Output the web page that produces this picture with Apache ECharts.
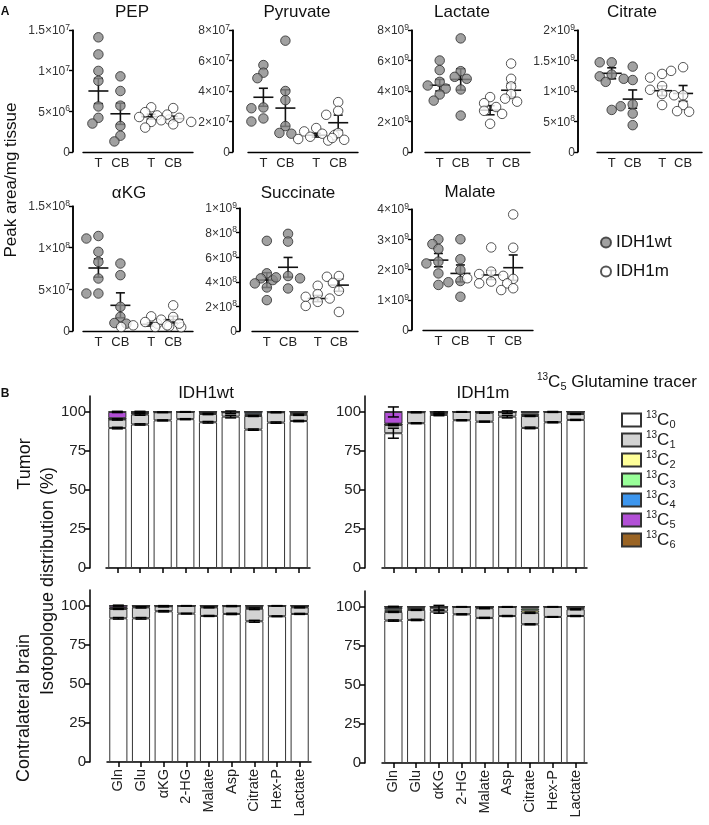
<!DOCTYPE html>
<html><head><meta charset="utf-8">
<script src="https://cdn.jsdelivr.net/npm/echarts@6/dist/echarts.min.js"></script>
<style>html,body{margin:0;padding:0;background:#fff}#wrap{position:relative;width:709px;height:825px;overflow:hidden}
.layer{position:absolute;left:0;top:0;width:709px;height:825px;pointer-events:none}</style>
</head><body><div id="wrap"></div>
<script>
// ---------------- Panel A data ----------------
const groupLabels = ['T', 'CB', 'T', 'CB'];
const groupSeries = ['IDH1wt', 'IDH1wt', 'IDH1m', 'IDH1m'];
const plotTitles = ['PEP', 'Pyruvate', 'Lactate', 'Citrate', 'αKG', 'Succinate', 'Malate'];
const yMax = [1.5e7, 8e7, 8e9, 2e9, 1.5e8, 1e9, 4e9];
const yInterval = [5e6, 2e7, 2e9, 5e8, 5e7, 2e8, 1e9];

const pep = [[14.1e6, 12.0e6, 9.97e6, 8.75e6, 5.6e6, 4.2e6, 3.5e6], [9.3e6, 7.5e6, 5.7e6, 3.2e6, 2.0e6, 1.3e6], [5.5e6, 4.9e6, 4.5e6, 4.3e6, 4.0e6, 3.7e6, 3.0e6], [5.4e6, 4.6e6, 4.2e6, 3.9e6, 3.7e6, 3.4e6]];
const pepMean = [7.5e6, 4.7e6, 4.35e6, 4.1e6];
const pepSem = [1.55e6, 1.3e6, 0.3e6, 0.3e6];

const pyruvate = [[5.7e7, 5.2e7, 4.84e7, 2.92e7, 2.87e7, 2.2e7, 2.0e7], [7.3e7, 4.0e7, 3.4e7, 1.7e7, 1.25e7, 1.2e7], [1.57e7, 1.35e7, 1.2e7, 1.1e7, 1.0e7, 0.85e7, 0.75e7], [3.27e7, 2.7e7, 2.44e7, 1.24e7, 0.92e7, 0.8e7]];
const pyruvateMean = [3.59e7, 2.88e7, 1.1e7, 1.92e7];
const pyruvateSem = [0.59e7, 1.2e7, 0.12e7, 0.5e7];

const lactate = [[6.0e9, 5.37e9, 4.6e9, 4.36e9, 4.16e9, 3.77e9, 3.37e9], [7.45e9, 5.3e9, 4.93e9, 4.8e9, 4.1e9, 2.39e9], [3.6e9, 3.2e9, 2.95e9, 2.7e9, 2.5e9, 1.85e9], [5.8e9, 4.8e9, 4.3e9, 3.8e9, 3.5e9, 3.3e9]];
const lactateMean = [4.38e9, 4.76e9, 2.74e9, 4.05e9];
const lactateSem = [0.38e9, 0.7e9, 0.3e9, 0.45e9];

const citrate = [[1.47e9, 1.47e9, 1.27e9, 1.24e9, 1.2e9, 1.15e9, 0.69e9], [1.40e9, 1.18e9, 0.78e9, 0.75e9, 0.63e9, 0.44e9], [1.28e9, 1.22e9, 1.08e9, 1.02e9, 0.95e9, 0.93e9, 0.77e9], [1.39e9, 1.33e9, 0.93e9, 0.77e9, 0.67e9, 0.66e9]];
const citrateMean = [1.29e9, 0.867e9, 1.005e9, 0.96e9];
const citrateSem = [0.09e9, 0.15e9, 0.08e9, 0.13e9];

const akg = [[11.4e7, 11.1e7, 9.5e7, 8.3e7, 6.3e7, 4.5e7, 4.5e7], [8.1e7, 6.7e7, 2.9e7, 1.7e7, 0.96e7, 0.88e7], [1.76e7, 1.08e7, 0.88e7, 0.68e7, 0.56e7, 0.48e7, 0.45e7], [3.08e7, 1.68e7, 1.36e7, 0.88e7, 0.68e7, 0.48e7]];
const akgMean = [7.56e7, 3.08e7, 0.8e7, 1.36e7];
const akgSem = [1.1e7, 1.5e7, 0.2e7, 0.4e7];

const succinate = [[7.33e8, 4.69e8, 4.28e8, 4.14e8, 3.87e8, 3.54e8, 2.51e8], [7.9e8, 7.27e8, 4.47e8, 4.36e8, 4.28e8, 3.46e8], [3.68e8, 3.0e8, 2.78e8, 2.64e8, 2.37e8, 2.04e8], [4.47e8, 4.41e8, 3.92e8, 3.27e8, 1.55e8]];
const succinateMean = [4.14e8, 5.18e8, 2.64e8, 3.73e8];
const succinateSem = [0.6e8, 0.8e8, 0.25e8, 0.5e8];

const malate = [[3.0e9, 2.84e9, 2.68e9, 2.26e9, 2.2e9, 1.87e9, 1.49e9], [3.0e9, 2.34e9, 1.98e9, 1.62e9, 1.58e9, 1.1e9], [2.73e9, 1.93e9, 1.85e9, 1.79e9, 1.71e9, 1.6e9, 1.54e9], [3.82e9, 2.72e9, 1.69e9, 1.54e9, 1.38e9, 1.32e9]];
const malateMean = [2.31e9, 1.87e9, 1.82e9, 2.06e9];
const malateSem = [0.22e9, 0.28e9, 0.15e9, 0.42e9];

// ---------------- Panel B data ----------------
const metabolites = ['Gln', 'Glu', 'αKG', '2-HG', 'Malate', 'Asp', 'Citrate', 'Hex-P', 'Lactate'];
const isoNames = ['13C0', '13C1', '13C2', '13C3', '13C4', '13C5', '13C6'];
const panelTitles = ['IDH1wt', 'IDH1m'];
// rows: 13C0 .. 13C6 (% of pool), columns follow metabolites
const tumorWt = [
  [89.5, 91.8, 94.4, 95.2, 93.2, 96.8, 88.5, 93.0, 94.0],
  [5.5, 6.4, 5.2, 4.6, 5.3, 2.8, 8.7, 6.6, 4.0],
  [0.3, 0.6, 0.2, 0.1, 0.6, 0.2, 0.8, 0.2, 0.8],
  [0.2, 0.3, 0.1, 0.05, 0.4, 0.1, 0.6, 0.1, 0.5],
  [0.3, 0.3, 0.05, 0.05, 0.4, 0.05, 1.2, 0.05, 0.6],
  [4.0, 0.5, 0.05, 0, 0.1, 0.05, 0.2, 0.05, 0.1],
  [0.2, 0.1, 0, 0, 0, 0, 0, 0, 0]
];
const tumorM = [
  [86.2, 92.6, 97.9, 94.5, 93.6, 96.8, 89.6, 93.2, 94.7],
  [5.3, 7.0, 1.3, 5.3, 5.7, 2.9, 7.6, 6.6, 3.8],
  [0.2, 0.2, 0.3, 0.1, 0.3, 0.1, 0.6, 0.1, 0.5],
  [0.2, 0.1, 0.2, 0.05, 0.2, 0.1, 1.0, 0.05, 0.5],
  [0.4, 0.05, 0.2, 0.05, 0.2, 0.05, 1.0, 0.05, 0.5],
  [7.5, 0.05, 0.1, 0, 0, 0.05, 0.2, 0, 0],
  [0.2, 0, 0, 0, 0, 0, 0, 0, 0]
];
const contraWt = [
  [91.9, 91.9, 96.4, 94.9, 93.4, 94.7, 90.0, 93.2, 94.7],
  [6.0, 7.0, 3.2, 5.0, 5.5, 5.0, 8.0, 6.7, 4.2],
  [0.2, 0.4, 0.2, 0.05, 0.4, 0.1, 0.5, 0.05, 0.4],
  [0.2, 0.3, 0.1, 0.03, 0.4, 0.1, 0.5, 0.03, 0.4],
  [0.2, 0.3, 0.1, 0.02, 0.3, 0.1, 0.8, 0.02, 0.3],
  [1.5, 0.1, 0, 0, 0, 0, 0.2, 0, 0],
  [0, 0, 0, 0, 0, 0, 0, 0, 0]
];
const contraM = [
  [91.1, 91.5, 96.8, 95.1, 92.8, 94.0, 88.7, 93.4, 94.0],
  [5.5, 6.4, 2.5, 4.8, 6.2, 5.8, 7.4, 6.5, 4.3],
  [0.8, 0.7, 0.3, 0.05, 0.4, 0.1, 1.5, 0.05, 0.6],
  [0.8, 0.7, 0.2, 0.03, 0.3, 0.05, 1.2, 0.03, 0.5],
  [1.0, 0.6, 0.2, 0.02, 0.3, 0.05, 1.0, 0.02, 0.6],
  [0.8, 0.1, 0, 0, 0, 0, 0.2, 0, 0],
  [0, 0, 0, 0, 0, 0, 0, 0, 0]
];
// SEM at the cumulative top of 13C0, 13C1 and 13C5
const semLevels = [0, 1, 5];
const tumorWtSem = [[0.5, 0.4, 0.3, 0.3, 0.5, 0.8, 0.4, 0.4, 0.4], [0.4, 0.5, 0.2, 0.2, 0.4, 0.8, 0.3, 0.3, 0.4], [0.4, 0.3, 0, 0, 0, 0, 0, 0, 0]];
const tumorMSem = [[3.2, 0.3, 0.5, 0.3, 0.3, 0.8, 0.5, 0.3, 0.3], [0.5, 0.3, 0.6, 0.2, 0.3, 0.8, 0.3, 0.3, 0.3], [3.2, 0, 0, 0, 0, 0, 0, 0, 0]];
const contraWtSem = [[0.5, 0.5, 0.4, 0.2, 0.3, 0.4, 0.6, 0.2, 0.3], [0.3, 0.4, 0.4, 0.1, 0.3, 0.3, 0.5, 0.1, 0.3], [0.3, 0, 0, 0, 0, 0, 0, 0, 0]];
const contraMSem = [[0.4, 0.4, 1.0, 0.3, 0.3, 0.3, 0.3, 0.2, 0.3], [0.3, 0.3, 1.5, 0.1, 0.3, 0.2, 0.4, 0.1, 0.3], [0.2, 0, 0, 0, 0, 0, 0, 0, 0]];

// ---------------- styles / layout ----------------
const FONT = 'Liberation Sans, Arial, Helvetica, sans-serif';
const isoColors = ['#ffffff', '#d3d3d3', '#ffff99', '#99ff99', '#3d96ee', '#b24fd6', '#9a6424'];
const groupPos = [0, 1, 2.4, 3.4];
const layoutA = [ // left, top, width, height, axis offset, title x, title y
  [83, 30, 110, 122, 10, 132, 12],
  [248, 30, 110, 122, 15, 297, 12],
  [425, 30, 105, 122, 13, 462, 12],
  [597, 30, 105, 122, 19, 632, 12],
  [83, 206, 110, 125, 10, 129, 193],
  [252, 208, 106, 123, 12, 298, 193],
  [423, 209, 110, 121, 11, 470, 192]
];
const layoutB = [
  [106, 396, 204, 172, 16],
  [382, 396, 205, 172, 17],
  [107, 590, 204, 172, 17],
  [382, 591, 205, 172, 17]
];
const XMIN = -0.7, XMAX = 4.3;

const aValues = [pep, pyruvate, lactate, citrate, akg, succinate, malate];
const aMeans = [pepMean, pyruvateMean, lactateMean, citrateMean, akgMean, succinateMean, malateMean];
const aSems = [pepSem, pyruvateSem, lactateSem, citrateSem, akgSem, succinateSem, malateSem];
const bValues = [tumorWt, tumorM, contraWt, contraM];
const bSems = [tumorWtSem, tumorMSem, contraWtSem, contraMSem];

function sci(v) {
  if (v === 0) return '{m|0}';
  const e = Math.floor(Math.log10(v) + 1e-9);
  const m = Math.round(v / Math.pow(10, e) * 10) / 10;
  return '{m|' + m + '×10}{s|' + e + '}';
}
const sciRich = {
  m: {fontSize: 12, fontFamily: FONT, color: '#333', lineHeight: 14, verticalAlign: 'bottom'},
  s: {fontSize: 8.5, fontFamily: FONT, color: '#333', lineHeight: 9, verticalAlign: 'top'}
};

// simple beeswarm layout: horizontal offsets so circles do not overlap much
function swarm(values, pxPerY, pxPerX) {
  const idx = values.map((v, i) => i).sort((a, b) => values[b] - values[a]);
  const placed = [], off = new Array(values.length).fill(0);
  const step = 6, minD = 7.5;
  idx.forEach(i => {
    const y = values[i] * pxPerY;
    for (let k = 0; k < 14; k++) {
      const dx = k === 0 ? 0 : (k % 2 ? -1 : 1) * Math.ceil(k / 2) * step;
      if (placed.every(p => Math.hypot(p[0] - dx, p[1] - y) >= minD)) {
        placed.push([dx, y]); off[i] = dx / pxPerX; break;
      }
    }
  });
  return off;
}

function layer() {
  const d = document.createElement('div');
  d.className = 'layer';
  document.getElementById('wrap').appendChild(d);
  return echarts.init(d, null, {renderer: 'canvas', width: 709, height: 825});
}
const black = '#000';

// ---------- base layer: panel B + all free texts ----------
const grid = [], xAxis = [], yAxis = [], series = [], graphic = [];
layoutB.forEach((L, q) => {
  const g = q;
  grid.push({left: L[0], top: L[1], width: L[2], height: L[3], containLabel: false});
  xAxis.push({
    gridIndex: g, type: 'category', data: metabolites,
    axisLine: {show: true, onZero: false, lineStyle: {color: black, width: 1.5}},
    axisTick: {show: true, alignWithLabel: true, length: 5, lineStyle: {color: black, width: 1.5}},
    axisLabel: {show: q >= 2, rotate: 90, fontSize: 14.5, fontFamily: FONT, color: '#222', margin: 7, interval: 0}
  });
  yAxis.push({
    gridIndex: g, type: 'value', min: 0, max: 110, offset: L[4],
    axisLine: {show: true, onZero: false, lineStyle: {color: black, width: 1.5}},
    axisTick: {show: true, length: 5, customValues: [0, 25, 50, 75, 100], lineStyle: {color: black, width: 1.5}},
    axisLabel: {customValues: [0, 25, 50, 75, 100], fontSize: 15, fontFamily: FONT, color: '#222', margin: 4},
    splitLine: {show: false}
  });
  const vals = bValues[q];
  vals.forEach((row, k) => {
    series.push({
      type: 'bar', name: isoNames[k], xAxisIndex: g, yAxisIndex: g, stack: 'b' + q,
      barWidth: '80%', data: row,
      itemStyle: {color: isoColors[k], borderColor: '#333', borderWidth: 1},
      silent: true
    });
  });
  const ebData = [];
  bSems[q].forEach((semRow, r) => {
    const lvl = semLevels[r];
    semRow.forEach((s, i) => {
      if (s > 0) {
        let cum = 0;
        for (let k = 0; k <= lvl; k++) cum += vals[k][i];
        ebData.push([i, cum, s]);
      }
    });
  });
  series.push({
    type: 'custom', xAxisIndex: g, yAxisIndex: g, z: 6, clip: false, silent: true,
    data: ebData,
    renderItem: (params, api) => {
      const x = api.value(0), m = api.value(1), s = api.value(2);
      const t = api.coord([x, m + s]), b = api.coord([x, m - s]);
      const st = {stroke: '#000', lineWidth: 1.5};
      const cw = 5.5;
      return {type: 'group', children: [
        {type: 'line', shape: {x1: t[0], y1: t[1], x2: t[0], y2: b[1]}, style: st},
        {type: 'line', shape: {x1: t[0] - cw, y1: t[1], x2: t[0] + cw, y2: t[1]}, style: st},
        {type: 'line', shape: {x1: t[0] - cw, y1: b[1], x2: t[0] + cw, y2: b[1]}, style: st}
      ]};
    }
  });
});

const txt = (t, x, y, o) => Object.assign({type: 'text', x: x, y: y, style: Object.assign({text: t, textAlign: 'center', textVerticalAlign: 'middle', fontSize: 17, fontFamily: FONT, fill: '#111'}, o && o.style)}, o && o.el);
layoutA.forEach((L, p) => graphic.push(txt(plotTitles[p], L[5], L[6])));
graphic.push(txt('A', 5, 12, {style: {fontSize: 12, fontWeight: 'bold'}}));
graphic.push(txt('B', 5, 394, {style: {fontSize: 12, fontWeight: 'bold'}}));
graphic.push(txt('Peak area/mg tissue', 11, 180, {el: {rotation: Math.PI / 2}}));
graphic.push(txt(panelTitles[0], 206, 393));
graphic.push(txt(panelTitles[1], 483, 393));
graphic.push(txt('Tumor', 25, 464, {el: {rotation: Math.PI / 2}, style: {fontSize: 18}}));
graphic.push(txt('Isotopologue distribution (%)', 48, 581, {el: {rotation: Math.PI / 2}, style: {fontSize: 18}}));
graphic.push(txt('Contralateral brain', 24, 708, {el: {rotation: Math.PI / 2}, style: {fontSize: 18}}));
graphic.push({type: 'text', x: 537, y: 382, style: {
  text: '{sup|13}{c|C}{sub|5}{t| Glutamine tracer}', textVerticalAlign: 'middle', textAlign: 'left',
  rich: {
    sup: {fontSize: 10, fontFamily: FONT, fill: '#111', lineHeight: 10, verticalAlign: 'top'},
    c: {fontSize: 17, fontFamily: FONT, fill: '#111', lineHeight: 20},
    sub: {fontSize: 11, fontFamily: FONT, fill: '#111', lineHeight: 11, verticalAlign: 'bottom'},
    t: {fontSize: 17, fontFamily: FONT, fill: '#111', lineHeight: 20}
  }
}});

layer().setOption({
  animation: false,
  backgroundColor: '#fff',
  grid: grid, xAxis: xAxis, yAxis: yAxis, series: series, graphic: graphic,
  legend: [{
    data: isoNames, orient: 'vertical', left: 616, top: 405,
    itemWidth: 19, itemHeight: 13, itemGap: 0, itemTextGap: 11, icon: 'rect', selectedMode: false,
    formatter: n => '{sup|13}{c|C}{sub|' + n.slice(3) + '}',
    textStyle: {
      rich: {
        sup: {fontSize: 10, fontFamily: FONT, color: '#222', lineHeight: 10, verticalAlign: 'top'},
        c: {fontSize: 17, fontFamily: FONT, color: '#222', lineHeight: 20},
        sub: {fontSize: 11, fontFamily: FONT, color: '#222', lineHeight: 11, verticalAlign: 'bottom'}
      }
    }
  }]
});

// ---------- panel A data layer: x axes, points, mean ± SEM ----------
const aGrid = [], aX = [], aY = [], aSeries = [];
layoutA.forEach((L, p) => {
  aGrid.push({left: L[0], top: L[1], width: L[2], height: L[3], containLabel: false});
  aX.push({
    gridIndex: p, type: 'value', min: XMIN, max: XMAX,
    axisLine: {show: true, onZero: false, lineStyle: {color: black, width: 1.4}},
    axisTick: {show: false}, splitLine: {show: false},
    axisLabel: {
      customValues: groupPos, margin: 5, fontSize: 13, fontFamily: FONT, color: '#222',
      formatter: v => { const i = groupPos.findIndex(g => Math.abs(g - v) < 1e-6); return i >= 0 ? groupLabels[i] : ''; }
    }
  });
  aY.push({gridIndex: p, type: 'value', min: 0, max: yMax[p], show: false, splitLine: {show: false}});
  const pxPerY = L[3] / yMax[p], pxPerX = L[2] / (XMAX - XMIN);
  aValues[p].forEach((vals, g) => {
    const off = swarm(vals, pxPerY, pxPerX);
    aSeries.push({
      type: 'scatter', name: groupSeries[g], xAxisIndex: p, yAxisIndex: p,
      symbol: 'circle', symbolSize: 9.5,
      itemStyle: {color: g < 2 ? '#8a8a8a' : '#ffffff', borderColor: '#2a2a2a', borderWidth: 1},
      data: vals.map((v, i) => [groupPos[g] + off[i], v]),
      silent: true
    });
  });
  aSeries.push({
    type: 'custom', xAxisIndex: p, yAxisIndex: p, clip: false, silent: true,
    data: groupPos.map((x, g) => [x, aMeans[p][g], aSems[p][g]]),
    renderItem: (params, api) => {
      const x = api.value(0), m = api.value(1), sd = api.value(2);
      const c = api.coord([x, m]), t = api.coord([x, m + sd]), b = api.coord([x, m - sd]);
      const st = {stroke: '#111', lineWidth: 1.6};
      const hw = 10, cw = 4.5;
      return {type: 'group', children: [
        {type: 'line', shape: {x1: c[0] - hw, y1: c[1], x2: c[0] + hw, y2: c[1]}, style: st},
        {type: 'line', shape: {x1: c[0], y1: t[1], x2: c[0], y2: b[1]}, style: st},
        {type: 'line', shape: {x1: c[0] - cw, y1: t[1], x2: c[0] + cw, y2: t[1]}, style: st},
        {type: 'line', shape: {x1: c[0] - cw, y1: b[1], x2: c[0] + cw, y2: b[1]}, style: st}
      ]};
    }
  });
});
layer().setOption({
  animation: false,
  grid: aGrid, xAxis: aX, yAxis: aY, series: aSeries,
  legend: [{
    data: ['IDH1wt', 'IDH1m'], orient: 'vertical', left: 595, top: 229,
    itemWidth: 10, itemHeight: 10, itemGap: 12, itemTextGap: 9, icon: 'circle',
    textStyle: {fontSize: 17, fontFamily: FONT, color: '#111'}, selectedMode: false
  }]
});

// ---------- panel A y-axis layer: the offset y axes on their own grids ----------
const yGrid = [], yX = [], yY = [];
layoutA.forEach((L, p) => {
  yGrid.push({left: L[0] - L[4], top: L[1], width: L[2] + L[4], height: L[3], containLabel: false});
  yX.push({
    gridIndex: p, type: 'value', min: 0, max: 1, interval: 1,
    axisLine: {show: false}, axisTick: {show: false}, axisLabel: {show: false},
    splitLine: {show: true, showMinLine: true, showMaxLine: false, lineStyle: {color: black, width: 1.5, type: 'solid'}}
  });
  yY.push({
    gridIndex: p, type: 'value', min: 0, max: yMax[p], interval: yInterval[p],
    axisLine: {show: true, onZero: true, lineStyle: {color: black, width: 1.5}},
    axisTick: {show: true, length: 4, lineStyle: {color: black, width: 1.4}},
    splitLine: {show: false},
    axisLabel: {formatter: sci, rich: sciRich, margin: 3}
  });
});
layer().setOption({animation: false, grid: yGrid, xAxis: yX, yAxis: yY, series: []});
</script>
</body></html>
